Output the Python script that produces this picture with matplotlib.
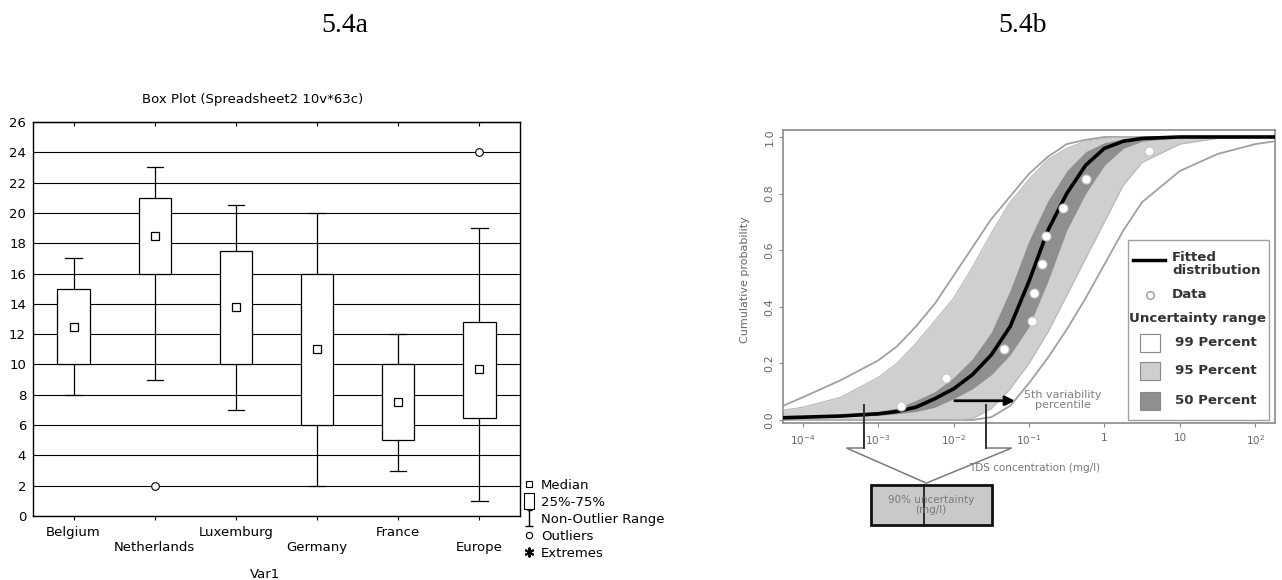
import matplotlib
matplotlib.use('Agg')
import matplotlib.pyplot as plt
from matplotlib.lines import Line2D
from matplotlib.patches import Rectangle, Polygon
from matplotlib.path import Path
from matplotlib.ticker import NullLocator
import numpy as np

plt.rcParams['font.family'] = ['DejaVu Sans']

# ---- 5.4a box plot data ----
countries = ['Belgium', 'Netherlands', 'Luxemburg', 'Germany', 'France', 'Europe']
q1 = [10, 16, 10, 6, 5, 6.5]
medians = [12.5, 18.5, 13.8, 11, 7.5, 9.7]
q3 = [15, 21, 17.5, 16, 10, 12.8]
whisk_lo = [8, 9, 7, 2, 3, 1]
whisk_hi = [17, 23, 20.5, 20, 12, 19]
outliers = [[], [2], [], [], [], [24]]

# ---- 5.4b cumulative distribution ----
log_conc = [-4.26, -4.0, -3.5, -3.0, -2.75, -2.5, -2.25, -2.0, -1.75, -1.5, -1.25,
            -1.0, -0.75, -0.5, -0.25, 0.0, 0.25, 0.5, 1.0, 1.5, 2.0, 2.26]
fitted = [0.008, 0.01, 0.014, 0.022, 0.03, 0.045, 0.075, 0.11, 0.16, 0.23, 0.33,
          0.49, 0.67, 0.80, 0.90, 0.96, 0.985, 0.995, 1.0, 1.0, 1.0, 1.0]
upper99 = [0.05, 0.08, 0.14, 0.21, 0.26, 0.33, 0.41, 0.51, 0.61, 0.71, 0.79,
           0.87, 0.93, 0.975, 0.99, 1.0, 1.0, 1.0, 1.0, 1.0, 1.0, 1.0]
upper95 = [0.035, 0.045, 0.08, 0.15, 0.20, 0.27, 0.35, 0.43, 0.54, 0.66, 0.77,
           0.85, 0.92, 0.96, 0.985, 0.995, 1.0, 1.0, 1.0, 1.0, 1.0, 1.0]
upper50 = [0.012, 0.014, 0.02, 0.03, 0.042, 0.069, 0.10, 0.15, 0.216, 0.31, 0.458,
           0.634, 0.774, 0.88, 0.948, 0.98, 0.993, 0.998, 1.0, 1.0, 1.0, 1.0]
lower50 = [0.005, 0.007, 0.011, 0.016, 0.022, 0.03, 0.045, 0.075, 0.11, 0.16, 0.23,
           0.33, 0.49, 0.67, 0.80, 0.90, 0.96, 0.985, 0.998, 1.0, 1.0, 1.0]
lower95 = [0.0, 0.0, 0.0, 0.0, 0.0, 0.0, 0.0, 0.0, 0.005, 0.04, 0.11,
           0.20, 0.31, 0.44, 0.57, 0.70, 0.83, 0.91, 0.975, 0.995, 1.0, 1.0]
lower99 = [0.0, 0.0, 0.0, 0.0, 0.0, 0.0, 0.0, 0.0, 0.0, 0.01, 0.05,
           0.13, 0.22, 0.32, 0.43, 0.55, 0.67, 0.77, 0.88, 0.94, 0.975, 0.985]
data_conc = [0.0020, 0.0079, 0.047, 0.108, 0.116, 0.147, 0.166, 0.284, 0.562, 3.89]
data_prob = [0.05, 0.15, 0.25, 0.35, 0.45, 0.55, 0.65, 0.75, 0.85, 0.95]
xtick_vals = [1e-4, 1e-3, 1e-2, 1e-1, 1, 10, 100]
xtick_labels = ['$10^{-4}$', '$10^{-3}$', '$10^{-2}$', '$10^{-1}$', '1', '10', '$10^{2}$']

W, H = 1282, 580
fig = plt.figure(figsize=(W / 100, H / 100), dpi=100)

fig.text(345 / W, 1 - 25 / H, '5.4a', family='Liberation Serif', fontsize=20,
         ha='center', va='center')
fig.text(1023 / W, 1 - 25 / H, '5.4b', family='Liberation Serif', fontsize=20,
         ha='center', va='center')

# ================= left: box plot =================
fs = 9.5
ax1 = fig.add_axes([33 / W, 1 - 516 / H, 487 / W, 394 / H])
pos = np.arange(len(countries)) + 0.5
stats = [dict(med=m, q1=a, q3=b, whislo=lo, whishi=hi, fliers=f)
         for m, a, b, lo, hi, f in zip(medians, q1, q3, whisk_lo, whisk_hi, outliers)]
ax1.bxp(stats, positions=pos, widths=0.4, capwidths=0.2, patch_artist=True,
        manage_ticks=False,
        boxprops=dict(facecolor='white', edgecolor='black', linewidth=0.9),
        whiskerprops=dict(color='black', linewidth=0.9),
        capprops=dict(color='black', linewidth=0.9),
        medianprops=dict(visible=False),
        flierprops=dict(marker='o', markersize=5.5, markerfacecolor='white',
                        markeredgecolor='black', markeredgewidth=0.8))
ax1.plot(pos, medians, ls='none', marker='s', ms=5.5, mfc='white', mec='black',
         mew=0.9, zorder=5)

ax1.set_xlim(0, 6)
ax1.set_ylim(0, 26)
ax1.set_yticks(range(0, 27, 2))
ax1.yaxis.grid(True, color='black', linewidth=0.8)
ax1.set_axisbelow(True)
ax1.tick_params(axis='y', length=0, pad=5, labelsize=fs)
ax1.set_xticks(pos, countries)
ax1.tick_params(axis='x', direction='out', length=3, pad=4.5, labelsize=fs)
for i, t in enumerate(ax1.xaxis.get_major_ticks()):
    if i % 2:
        t.set_pad(4.5 + 10.8)
top = ax1.secondary_xaxis('top')
top.set_xticks(pos, labels=[])
top.tick_params(direction='in', length=3)
for s in ax1.spines.values():
    s.set_linewidth(1)

fig.text(253 / W, 1 - 100 / H, 'Box Plot (Spreadsheet2 10v*63c)', fontsize=fs,
         ha='center', va='center')
fig.text(265 / W, 1 - 574 / H, 'Var1', fontsize=fs, ha='center', va='center')

rect_marker = Path([(-0.55, -1), (0.55, -1), (0.55, 1), (-0.55, 1), (-0.55, -1)],
                   [Path.MOVETO, Path.LINETO, Path.LINETO, Path.LINETO, Path.CLOSEPOLY])
ibeam_marker = Path([(-0.5, -1), (0.5, -1), (0, -1), (0, 1), (-0.3, 1), (0.3, 1)],
                    [Path.MOVETO, Path.LINETO, Path.MOVETO, Path.LINETO,
                     Path.MOVETO, Path.LINETO])
handles = [
    Line2D([], [], ls='none', marker='s', ms=5, mfc='white', mec='black', mew=0.8),
    Line2D([], [], ls='none', marker=rect_marker, ms=12, mfc='white', mec='black', mew=0.8),
    Line2D([], [], ls='none', marker=ibeam_marker, ms=12, mfc='none', mec='black', mew=1.0),
    Line2D([], [], ls='none', marker='o', ms=4.5, mfc='white', mec='black', mew=0.8),
    Line2D([], [], ls='none', marker=(6, 2, 0), ms=7, mec='black', mew=1.4),
]
labels = ['Median', '25%-75%', 'Non-Outlier Range', 'Outliers', 'Extremes']
ax1.legend(handles, labels, loc='upper left', bbox_to_anchor=(1.008, 0.094),
           frameon=False, fontsize=fs, handlelength=0.8, handletextpad=0.5,
           borderpad=0, borderaxespad=0, labelspacing=0.3)

# ================= right: cumulative distribution =================
grey_txt = '#666666'
ax2 = fig.add_axes([783 / W, 1 - 423 / H, 492 / W, 293 / H])
ax2.set_xscale('log')
conc = 10 ** np.array(log_conc)
ax2.fill_between(conc, lower99, upper99, color='white', lw=0, zorder=1)
ax2.fill_between(conc, lower95, upper95, color='#cfcfcf', lw=0, zorder=2)
ax2.fill_between(conc, lower50, upper50, color='#8f8f8f', lw=0, zorder=3)
for c in (upper99, lower99):
    ax2.plot(conc, c, color='#a0a0a0', lw=1.3, zorder=4)
for c in (upper95, lower95):
    ax2.plot(conc, c, color='#b8b8b8', lw=0.8, zorder=4)
ax2.plot(conc, fitted, color='black', lw=2.6, zorder=6)
ax2.plot(data_conc, data_prob, ls='none', marker='o', ms=6.5, mfc='white',
         mec='#c8c8c8', mew=0.8, zorder=7)

ax2.set_xlim(10 ** -4.26, 10 ** 2.26)
ax2.set_ylim(-0.0106, 1.0247)
ax2.set_xticks(xtick_vals, xtick_labels)
ax2.xaxis.set_minor_locator(NullLocator())
ax2.set_yticks([0, 0.2, 0.4, 0.6, 0.8, 1.0], ['0.0', '0.2', '0.4', '0.6', '0.8', '1.0'])
ax2.tick_params(axis='x', length=3, pad=4, labelsize=7.5, colors='#888888',
                labelcolor=grey_txt)
ax2.tick_params(axis='y', length=3, pad=3, labelsize=8, colors='#888888',
                labelcolor=grey_txt, labelrotation=90)
for lab in ax2.get_yticklabels():
    lab.set_va('center')
for s in ax2.spines.values():
    s.set_color('#8a8a8a')
    s.set_linewidth(1.2)

ax2.text(-0.077, 0.488, 'Cumulative probability', rotation=90, transform=ax2.transAxes,
         fontsize=8, color=grey_txt, ha='center', va='center')

# 5th percentile arrow and label
ax2.annotate('', xy=(10 ** -1.15, 0.068), xytext=(10 ** -2.02, 0.068),
             arrowprops=dict(arrowstyle='-|>', color='black', lw=2, mutation_scale=14),
             zorder=8)
ax2.text(10 ** -1.07, 0.07, '5th variability\npercentile', fontsize=8, color='#808080',
         ha='left', va='center', multialignment='center', linespacing=1.0, zorder=8)

# block arrow down to uncertainty box
blk = [(10 ** -3.19, 0.053), (10 ** -3.19, -0.099), (10 ** -3.42, -0.099),
       (10 ** -2.36, -0.223), (10 ** -1.23, -0.099), (10 ** -1.57, -0.099),
       (10 ** -1.57, 0.053)]
ax2.add_patch(Polygon(blk, closed=False, fill=False, edgecolor='#7a7a7a', lw=1.1,
                      clip_on=False, zorder=8))
for lx in (-3.19, -1.57):
    ax2.plot([10 ** lx] * 2, [0.053, -0.099], color='#333333', lw=1.4,
             clip_on=False, zorder=9)
ax2.add_patch(Rectangle((10 ** -3.09, -0.371), 10 ** -1.49 - 10 ** -3.09, 0.141,
                        facecolor='#c9c9c9', edgecolor='#111111', lw=2,
                        clip_on=False, zorder=8))
ax2.plot([10 ** -2.39] * 2, [-0.23, -0.371], color='#111111', lw=1.2,
         clip_on=False, zorder=9)
ax2.text(10 ** -2.30, -0.30, '90% uncertainty\n(mg/l)', fontsize=7.5, color='#7a7a7a',
         ha='center', va='center', linespacing=1.1, clip_on=False, zorder=10)
ax2.text(10 ** -1.79, -0.17, 'TDS concentration (mg/l)', fontsize=7.5, color='#777777',
         ha='left', va='center', clip_on=False)

# legend box
tr = ax2.transAxes
ax2.add_patch(Rectangle((0.701, 0.0102), 0.287, 0.6144, transform=tr, facecolor='white',
                        edgecolor='#a0a0a0', lw=1, zorder=10))
ax2.plot([0.711, 0.776], [0.556, 0.556], transform=tr, color='black', lw=2.5, zorder=11)
ax2.plot([0.746], [0.437], transform=tr, ls='none', marker='o', ms=5.5, mfc='white',
         mec='#999999', zorder=11)
leg_kw = dict(transform=tr, fontsize=9.6, fontweight='bold', color='#333333',
              va='center', zorder=11)
ax2.text(0.791, 0.543, 'Fitted\ndistribution', linespacing=1.0, **leg_kw)
ax2.text(0.791, 0.437, 'Data', **leg_kw)
ax2.text(0.704, 0.358, 'Uncertainty range', **leg_kw)
for y0, fc, lab in [(0.242, 'white', '99 Percent'), (0.147, '#cfcfcf', '95 Percent'),
                    (0.044, '#8f8f8f', '50 Percent')]:
    ax2.add_patch(Rectangle((0.7256, y0), 0.0404, 0.062, transform=tr, facecolor=fc,
                            edgecolor='#888888', lw=0.8, zorder=11))
    ax2.text(0.797, y0 + 0.033, lab, **leg_kw)

fig.savefig('out.png', dpi=100)
